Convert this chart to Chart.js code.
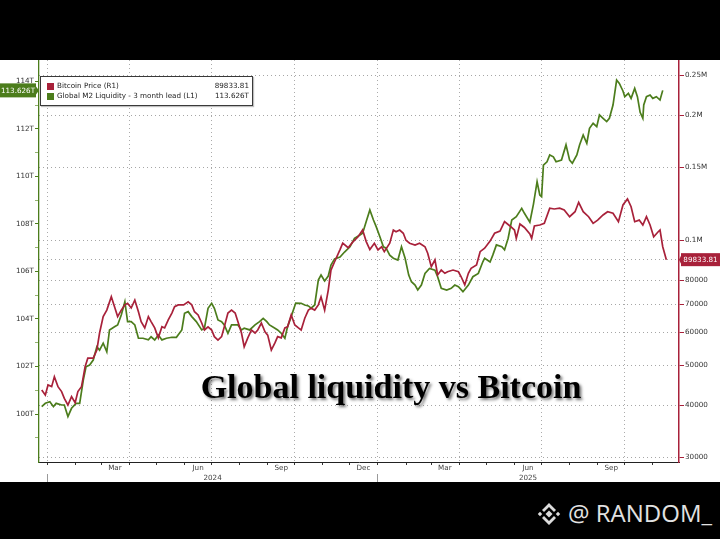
<!DOCTYPE html>
<html><head><meta charset="utf-8">
<script src="https://cdn.jsdelivr.net/npm/chart.js@4.4.1/dist/chart.umd.min.js"></script>
<style>
html,body{margin:0;padding:0;background:#000;width:720px;height:539px;overflow:hidden;}
#wrap{position:absolute;left:0;top:60px;width:720px;height:422px;background:#fff;}
#legend{position:absolute;left:40px;top:76px;width:211px;height:28px;border:1px solid #3a3a3a;background:#fff;font-family:'DejaVu Sans';font-size:7.2px;color:#222;box-shadow:1px 1px 1px rgba(0,0,0,.25);}
.row{position:absolute;left:6px;right:3px;height:10px;line-height:10px;white-space:nowrap;}
.sw{position:absolute;left:0;top:1.5px;width:7px;height:7px;}
.lab{position:absolute;left:10px;top:0;}
.val{position:absolute;right:0;top:0;}
#title{position:absolute;left:0;width:782px;text-align:center;top:370px;font-family:'Liberation Serif';font-weight:bold;font-size:34px;line-height:34px;color:#000;text-shadow:2px 2px 3px rgba(0,0,0,.55);white-space:nowrap;}
#wm{position:absolute;left:568px;top:497px;font-family:'Open Sans';font-size:24px;line-height:32px;color:#e2e2e2;white-space:nowrap;}
#logo{position:absolute;left:535px;top:500px;width:28px;height:28px;}
</style></head>
<body>
<div id="wrap"><canvas id="c"></canvas></div>
<div id="legend">
  <div class="row" style="top:4px"><div class="sw" style="background:#a8213a"></div><span class="lab">Bitcoin Price (R1)</span><span class="val" id="v1"></span></div>
  <div class="row" style="top:14px"><div class="sw" style="background:#4c7d1c"></div><span class="lab">Global M2 Liquidity - 3 month lead (L1)</span><span class="val" id="v2"></span></div>
</div>
<div id="title">Global liquidity vs Bitcoin</div>
<svg id="logo" viewBox="0 0 28 28"><g fill="#dcdcdc">
<polygon points="14,10.5 17.5,14 14,17.5 10.5,14"/>
<polygon points="5,11.8 7.2,14 5,16.2 2.8,14"/>
<polygon points="23,11.8 25.2,14 23,16.2 20.8,14"/>
<polygon points="14,3 21,10 19,12 14,7 9,12 7,10"/>
<polygon points="14,25 21,18 19,16 14,21 9,16 7,18"/>
</g></svg>
<div id="wm">@ RANDOM_</div>
<script>
// ---- data ----
const btcDates = ['2023-12-26','2023-12-30','2024-01-02','2024-01-06','2024-01-09','2024-01-13','2024-01-17','2024-01-20','2024-01-24','2024-01-28','2024-02-01','2024-02-04','2024-02-08','2024-02-10','2024-02-12','2024-02-15','2024-02-21','2024-02-25','2024-02-28','2024-03-03','2024-03-07','2024-03-12','2024-03-16','2024-03-19','2024-03-23','2024-03-27','2024-03-30','2024-04-03','2024-04-07','2024-04-11','2024-04-14','2024-04-18','2024-04-22','2024-04-25','2024-04-29','2024-05-03','2024-05-07','2024-05-10','2024-05-14','2024-05-18','2024-05-21','2024-05-25','2024-05-31','2024-06-05','2024-06-09','2024-06-12','2024-06-16','2024-06-20','2024-06-23','2024-06-27','2024-07-01','2024-07-04','2024-07-08','2024-07-12','2024-07-15','2024-07-19','2024-07-23','2024-07-27','2024-07-30','2024-08-03','2024-08-06','2024-08-10','2024-08-14','2024-08-18','2024-08-21','2024-08-25','2024-08-29','2024-09-01','2024-09-05','2024-09-09','2024-09-12','2024-09-16','2024-09-20','2024-09-23','2024-09-27','2024-10-01','2024-10-05','2024-10-08','2024-10-12','2024-10-16','2024-10-19','2024-10-23','2024-10-27','2024-10-30','2024-11-03','2024-11-07','2024-11-10','2024-11-14','2024-11-20','2024-11-23','2024-11-29','2024-12-04','2024-12-10','2024-12-15','2024-12-19','2024-12-23','2024-12-28','2025-01-01','2025-01-05','2025-01-08','2025-01-14','2025-01-18','2025-01-21','2025-01-25','2025-01-29','2025-02-01','2025-02-05','2025-02-11','2025-02-16','2025-02-22','2025-02-25','2025-03-01','2025-03-05','2025-03-08','2025-03-12','2025-03-16','2025-03-19','2025-03-25','2025-03-31','2025-04-03','2025-04-07','2025-04-11','2025-04-14','2025-04-20','2025-04-24','2025-04-29','2025-05-05','2025-05-10','2025-05-16','2025-05-21','2025-05-27','2025-06-01','2025-06-03','2025-06-07','2025-06-12','2025-06-18','2025-06-20','2025-06-23','2025-06-29','2025-07-04','2025-07-10','2025-07-15','2025-07-21','2025-07-26','2025-08-01','2025-08-07','2025-08-11','2025-08-16','2025-08-22','2025-08-27','2025-09-01','2025-09-07','2025-09-12','2025-09-18','2025-09-24','2025-09-29','2025-10-04','2025-10-08','2025-10-12','2025-10-17','2025-10-21','2025-10-25','2025-10-29','2025-11-02','2025-11-07','2025-11-09','2025-11-12','2025-11-16'];
const btcK = [43.6,42.4,44.8,44.4,46.9,44.4,43.2,41.6,40.1,42.0,40.6,43.2,44.4,46.9,49.6,52.0,52.0,54.4,59.8,65.5,67.9,73.1,68.7,65.5,67.9,69.9,70.5,68.7,71.8,67.3,63.7,61.5,65.5,63.7,61.5,58.2,61.9,61.5,64.3,66.8,69.2,69.9,69.9,71.1,69.9,67.3,66.1,63.2,60.8,61.9,60.8,58.6,57.5,58.6,61.9,66.8,67.9,66.8,63.7,59.8,55.4,58.2,60.8,59.8,60.8,63.2,60.2,59.1,54.4,56.6,58.6,58.2,61.5,61.9,66.1,62.5,61.5,60.8,64.9,67.9,68.6,67.9,69.9,73.1,67.9,75.9,84.8,88.8,95.0,98.5,96.0,99.0,102.0,105.9,99.3,95.0,98.4,94.8,96.5,93.9,98.4,105.9,104.9,105.9,104.0,100.0,98.4,97.4,98.4,96.5,93.1,86.4,89.7,82.5,84.8,83.3,84.0,84.8,84.0,81.7,78.1,83.3,85.6,87.2,93.9,95.7,99.6,104.0,105.3,110.9,108.3,105.9,101.1,109.5,107.4,103.6,101.1,108.3,108.9,109.9,119.5,119.0,119.5,118.4,114.0,117.2,123.5,117.2,114.0,109.9,111.9,115.1,117.2,116.2,110.9,121.7,125.8,120.5,110.9,111.9,108.9,114.0,108.9,102.0,104.9,105.9,96.5,89.83381];

const m2Dates = ['2023-12-26','2023-12-30','2024-01-04','2024-01-08','2024-01-11','2024-01-17','2024-01-20','2024-01-24','2024-01-28','2024-02-02','2024-02-06','2024-02-10','2024-02-13','2024-02-17','2024-02-21','2024-02-25','2024-02-28','2024-03-03','2024-03-07','2024-03-10','2024-03-16','2024-03-19','2024-03-23','2024-03-27','2024-03-30','2024-04-03','2024-04-07','2024-04-11','2024-04-16','2024-04-22','2024-04-25','2024-04-29','2024-05-03','2024-05-07','2024-05-12','2024-05-18','2024-05-23','2024-05-29','2024-06-01','2024-06-05','2024-06-09','2024-06-14','2024-06-20','2024-06-23','2024-06-27','2024-07-01','2024-07-04','2024-07-08','2024-07-12','2024-07-15','2024-07-19','2024-07-23','2024-07-30','2024-08-03','2024-08-06','2024-08-12','2024-08-18','2024-08-23','2024-08-27','2024-08-31','2024-09-03','2024-09-09','2024-09-12','2024-09-16','2024-09-20','2024-09-23','2024-09-27','2024-10-02','2024-10-08','2024-10-12','2024-10-16','2024-10-19','2024-10-23','2024-10-27','2024-10-30','2024-11-03','2024-11-07','2024-11-10','2024-11-14','2024-11-20','2024-11-25','2024-12-01','2024-12-06','2024-12-12','2024-12-15','2024-12-19','2024-12-23','2024-12-27','2024-12-30','2025-01-03','2025-01-07','2025-01-10','2025-01-14','2025-01-18','2025-01-23','2025-01-27','2025-01-31','2025-02-04','2025-02-07','2025-02-11','2025-02-14','2025-02-18','2025-02-22','2025-02-27','2025-03-05','2025-03-08','2025-03-12','2025-03-18','2025-03-23','2025-03-27','2025-03-31','2025-04-05','2025-04-11','2025-04-16','2025-04-22','2025-04-27','2025-04-29','2025-05-05','2025-05-08','2025-05-12','2025-05-18','2025-05-21','2025-05-25','2025-05-29','2025-06-03','2025-06-09','2025-06-12','2025-06-18','2025-06-22','2025-06-26','2025-06-29','2025-07-01','2025-07-03','2025-07-07','2025-07-10','2025-07-14','2025-07-17','2025-07-23','2025-07-28','2025-08-01','2025-08-04','2025-08-09','2025-08-12','2025-08-16','2025-08-20','2025-08-23','2025-08-27','2025-08-31','2025-09-03','2025-09-07','2025-09-11','2025-09-14','2025-09-18','2025-09-22','2025-09-25','2025-09-29','2025-10-01','2025-10-05','2025-10-08','2025-10-12','2025-10-15','2025-10-18','2025-10-21','2025-10-22','2025-10-25','2025-10-29','2025-11-01','2025-11-05','2025-11-09','2025-11-12','2025-11-13'];
const m2T = [100.31,100.45,100.52,100.31,100.45,100.38,100.38,99.89,100.24,100.45,100.45,101.43,101.99,102.06,102.27,102.83,102.69,102.98,102.62,103.54,103.68,103.75,104.17,104.73,103.89,103.89,103.75,103.19,103.19,103.12,103.25,103.12,103.33,103.12,103.19,103.23,103.23,103.54,104.24,104.31,104.10,103.89,103.54,103.61,104.45,104.66,104.45,103.96,103.89,103.75,103.40,103.75,103.75,103.54,103.61,103.54,103.75,103.89,104.03,103.89,103.75,103.61,103.54,103.40,103.19,103.68,104.10,104.67,104.66,104.59,104.55,104.46,104.59,105.64,105.85,105.60,105.81,106.27,106.53,106.61,106.82,107.04,107.40,107.54,107.61,108.10,108.59,108.17,107.89,107.47,107.04,106.98,106.69,106.56,106.48,107.04,106.56,105.85,105.57,105.43,105.22,105.43,105.92,106.13,106.06,105.78,105.29,105.22,105.29,105.43,105.36,105.15,105.43,105.78,105.92,106.41,106.56,106.40,106.69,107.12,107.04,106.91,107.40,108.17,108.31,108.66,108.45,108.08,108.84,109.78,109.22,109.15,110.48,110.62,110.91,110.83,110.62,110.69,111.33,110.69,110.56,110.91,111.33,111.75,111.40,112.03,112.24,112.10,112.59,112.45,112.31,112.45,113.01,114.06,113.92,113.60,113.36,113.50,113.29,113.71,113.36,112.70,112.45,113.01,113.36,113.43,113.29,113.36,113.22,113.626];

const btcLast = 89833.81;
const m2Last = 113.626;
const leftTicks = [99,100,101,102,103,104,105,106,107,108,109,110,111,112,113,114];
const leftLabelled = [100,102,104,106,108,110,112,114];
const rightTicks = [30000,40000,50000,60000,70000,80000,100000,150000,200000,250000];
const rightLabels = ['30000','40000','50000','60000','70000','80000','0.1M','0.15M','0.2M','0.25M'];
const monthLabels = ['Mar','Jun','Sep','Dec','Mar','Jun','Sep'];
const monthLabelDates = ['2024-03-16','2024-06-16','2024-09-16','2024-12-16','2025-03-16','2025-06-16','2025-09-16'];
const yearLabels = ['2024','2025'];
const yearLabelDates = ['2024-07-02','2025-06-16'];
const yearStartDates = ['2024-01-01','2025-01-01'];
const xStart = '2023-12-23', xEnd = '2025-11-30';

// ---- helpers ----
const D0 = Date.UTC(2024,0,1);
const day = s => (Date.parse(s) - D0) / 864e5;
const near = (a,b) => Math.abs(a-b) < 0.01;
const monthStarts = [];
for (let y = 2024; y <= 2025; y++) for (let m = 0; m < 12; m++) {
  const d = (Date.UTC(y,m,1) - D0)/864e5;
  if (d <= day(xEnd)) monthStarts.push({d, q: m % 3 === 0});
}
const monthLabelDays = monthLabelDates.map(day);
const yearLabelDays = yearLabelDates.map(day);
const yearStartDays = yearStartDates.map(day);
const FONT = {family:'DejaVu Sans', size:7.2};
const GREEN = '#4c7d1c', RED = '#a8213a';

document.getElementById('v1').textContent = btcLast.toFixed(2);
document.getElementById('v2').textContent = m2Last.toFixed(3) + 'T';

const tagPlugin = {
  id: 'tags',
  afterDraw(chart) {
    const {ctx, scales} = chart;
    ctx.save();
    ctx.font = '7.2px "DejaVu Sans"';
    ctx.textAlign = 'center'; ctx.textBaseline = 'middle';
    const yl = scales.y.getPixelForValue(m2Last);
    const la = scales.y.right;
    ctx.fillStyle = GREEN;
    ctx.fillRect(0, yl - 7, la - 3, 14);
    ctx.beginPath(); ctx.moveTo(la - 3, yl - 4); ctx.lineTo(la, yl); ctx.lineTo(la - 3, yl + 4); ctx.fill();
    ctx.fillStyle = '#fff';
    ctx.fillText(m2Last.toFixed(3) + 'T', (la - 3) / 2, yl + 0.5);
    const yr = scales.y1.getPixelForValue(btcLast);
    const ra = scales.y1.left;
    ctx.fillStyle = RED;
    ctx.fillRect(ra + 2, yr - 6.5, chart.width - ra - 2, 13);
    ctx.beginPath(); ctx.moveTo(ra + 2, yr - 4); ctx.lineTo(ra, yr); ctx.lineTo(ra + 2, yr + 4); ctx.fill();
    ctx.fillStyle = '#fff';
    ctx.fillText(btcLast.toFixed(2), (ra + 2 + chart.width) / 2, yr + 0.5);
    ctx.restore();
  }
};

new Chart(document.getElementById('c'), {
  type: 'line',
  data: {
    datasets: [
      {label:'Bitcoin Price (R1)', data: btcDates.map((d,i)=>({x:day(d), y:btcK[i]*1000})),
       xAxisID:'x', yAxisID:'y1', borderColor:RED, borderWidth:1.7, pointRadius:0, tension:0},
      {label:'Global M2 Liquidity - 3 month lead (L1)', data: m2Dates.map((d,i)=>({x:day(d), y:m2T[i]})),
       xAxisID:'x', yAxisID:'y', borderColor:GREEN, borderWidth:1.7, pointRadius:0, tension:0}
    ]
  },
  options: {
    responsive:true, maintainAspectRatio:false, animation:false,
    layout:{padding:0, autoPadding:false},
    plugins:{legend:{display:false}, tooltip:{enabled:false}},
    scales: {
      x: {
        type:'linear', position:'bottom', weight:0, min:day(xStart), max:day(xEnd),
        afterBuildTicks: s => { s.ticks = monthStarts.map(m=>({value:m.d})).concat(monthLabelDays.map(v=>({value:v}))); },
        afterFit: s => { s.height = 12; s.paddingLeft = 0; s.paddingRight = 0; },
        ticks: {autoSkip:false, maxRotation:0, minRotation:0, padding:-1.5, color:'#444', font:FONT,
          callback: v => { const i = monthLabelDays.findIndex(d=>near(d,v)); return i>=0 ? monthLabels[i] : ''; }},
        grid: {drawOnChartArea:true, tickLength:3, lineWidth:1,
          color: c => { if (!c.tick) return 'rgba(0,0,0,0)'; const m = monthStarts.find(o=>near(o.d,c.tick.value)); return (m && m.q) ? '#ababab' : 'rgba(0,0,0,0)'; },
          tickColor: c => { if (!c.tick) return 'rgba(0,0,0,0)'; return monthStarts.some(o=>near(o.d,c.tick.value)) ? '#333' : 'rgba(0,0,0,0)'; }},
        border: {display:true, color:'#222', width:1, dash:[1,3]}
      },
      x2: {
        type:'linear', position:'bottom', weight:1, min:day(xStart), max:day(xEnd),
        afterBuildTicks: s => { s.ticks = yearStartDays.concat(yearLabelDays).map(v=>({value:v})); },
        afterFit: s => { s.height = 8; s.paddingLeft = 0; s.paddingRight = 0; },
        ticks: {autoSkip:false, maxRotation:0, minRotation:0, padding:-10, color:'#444', font:FONT,
          callback: v => { const i = yearLabelDays.findIndex(d=>near(d,v)); return i>=0 ? yearLabels[i] : ''; }},
        grid: {drawOnChartArea:false, tickLength:10,
          tickColor: c => (c.tick && yearStartDays.some(d=>near(d,c.tick.value))) ? '#999' : 'rgba(0,0,0,0)'},
        border: {display:false}
      },
      y: {
        type:'linear', position:'left', min:97.979, max:114.905,
        afterBuildTicks: s => { s.ticks = leftTicks.map(v=>({value:v})); },
        afterFit: s => { s.width = 39; s.paddingTop = 0; s.paddingBottom = 0; },
        ticks: {padding:1, color:'#333', font:FONT,
          callback: v => leftLabelled.includes(v) ? v + 'T' : ''},
        grid: {drawOnChartArea:false, tickLength:4,
          tickColor: c => (c.tick && leftLabelled.includes(c.tick.value)) ? GREEN : '#94b372'},
        border: {color:GREEN, width:1.3}
      },
      y1: {
        type:'logarithmic', position:'right', min:29227, max:272040,
        afterBuildTicks: s => { s.ticks = rightTicks.concat([btcLast]).map(v=>({value:v})); },
        afterFit: s => { s.width = 41; s.paddingTop = 0; s.paddingBottom = 0; },
        ticks: {padding:1, color:'#333', font:FONT,
          callback: v => { const i = rightTicks.indexOf(v); return i>=0 ? rightLabels[i] : ''; }},
        grid: {drawOnChartArea:true, color:'#a6a6a6', lineWidth:1, tickLength:5, tickColor:RED},
        border: {color:RED, width:1.5, dash:[1,3]}
      }
    }
  },
  plugins: [tagPlugin]
});
</script>
</body></html>
